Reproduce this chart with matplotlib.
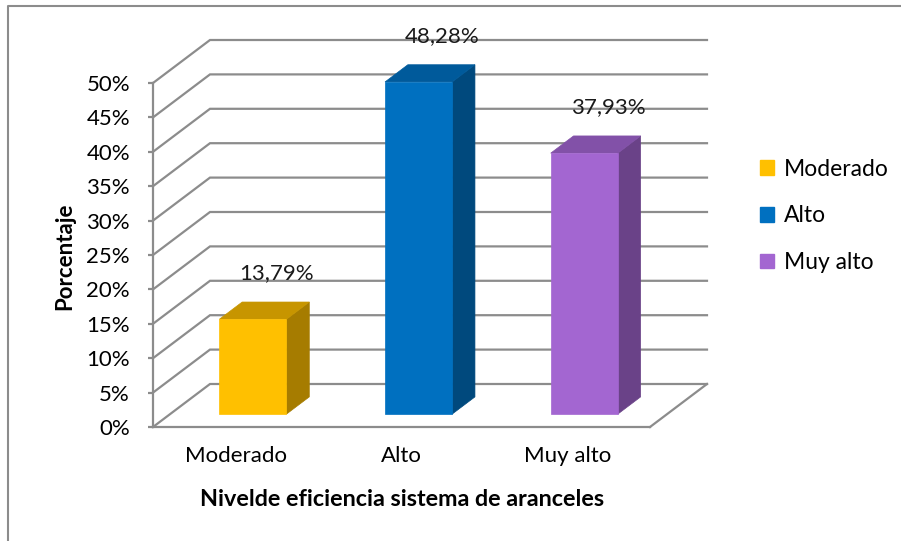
import matplotlib
matplotlib.use("Agg")
import matplotlib.pyplot as plt
from matplotlib.patches import Polygon, Patch
from matplotlib.lines import Line2D

# ---- data ----
categories = ["Moderado", "Alto", "Muy alto"]
values = [13.79, 48.28, 37.93]
value_labels = ["13,79%", "48,28%", "37,93%"]
yticks = [0, 5, 10, 15, 20, 25, 30, 35, 40, 45, 50]
ytick_labels = [f"{t}%" for t in yticks]
x_title = "Nivelde eficiencia sistema de aranceles"
y_title = "Porcentaje"

front_colors = ["#FFC000", "#0070C0", "#A366D1"]
side_colors = ["#A67C00", "#00497D", "#6A4288"]
top_colors = ["#C79500", "#005A9B", "#8251A8"]
grid_color = "#8C8C8C"

FONT = "Lato"
FS = 16
W, H = 901, 541
fig = plt.figure(figsize=(W / 100, H / 100), dpi=100)
ax = fig.add_axes([153 / W, (H - 427) / H, 497 / W, 344 / H])
n = len(categories)
ax.set_xlim(-0.5, n - 0.5)
ax.set_ylim(0, 50)

# 3D depth offsets in data units
DX = 0.344
DY = 6.25
f0, f1 = 0.30, 0.70
bw = 0.405

# walls / grid
for t in yticks:
    ax.plot([-0.5, -0.5 + DX, n - 0.5 + DX], [t, t + DY, t + DY],
            color=grid_color, lw=1.6, clip_on=False, zorder=1,
            solid_joinstyle="miter")
ax.plot([n - 0.5, n - 0.5 + DX], [0, DY], color=grid_color, lw=1.6,
        clip_on=False, zorder=1)

# bars
for i, v in enumerate(values):
    l = i - bw / 2
    r = i + bw / 2
    front = [(l + f0 * DX, f0 * DY), (r + f0 * DX, f0 * DY),
             (r + f0 * DX, v + f0 * DY), (l + f0 * DX, v + f0 * DY)]
    side = [(r + f0 * DX, f0 * DY), (r + f1 * DX, f1 * DY),
            (r + f1 * DX, v + f1 * DY), (r + f0 * DX, v + f0 * DY)]
    top = [(l + f0 * DX, v + f0 * DY), (r + f0 * DX, v + f0 * DY),
           (r + f1 * DX, v + f1 * DY), (l + f1 * DX, v + f1 * DY)]
    for poly, c in ((side, side_colors[i]), (top, top_colors[i]), (front, front_colors[i])):
        ax.add_patch(Polygon(poly, closed=True, facecolor=c, edgecolor=c,
                             lw=0.5, clip_on=False, zorder=3))
    ax.text(i + 0.72 * DX, v + 0.5 * DY + 5.4, value_labels[i], ha="center",
            va="center", fontsize=FS, family=FONT, color="#1a1a1a", zorder=5)

# axes styling
for s in ("top", "right"):
    ax.spines[s].set_visible(False)
for s in ("left", "bottom"):
    ax.spines[s].set_color(grid_color)
    ax.spines[s].set_linewidth(1.6)
ax.set_yticks(yticks)
ax.set_yticklabels(ytick_labels, family=FONT, fontsize=FS)
ax.set_xticks(range(n))
ax.set_xticklabels(categories, family=FONT, fontsize=FS)
ax.tick_params(axis="y", length=3.6, width=1.6, color=grid_color, pad=13)
ax.tick_params(axis="x", length=0, pad=14)
ax.set_facecolor("none")

fig.text(65 / W, 1 - 256 / H, y_title, rotation=90, ha="center", va="center",
         fontsize=FS, fontweight="bold", family=FONT)
fig.text(402 / W, 1 - 500 / H, x_title, ha="center", va="center",
         fontsize=16.8, fontweight="bold", family=FONT)

handles = [Patch(facecolor=c, edgecolor=c) for c in front_colors]
fig.legend(handles, categories, loc="center left",
           bbox_to_anchor=(760 / W, 1 - 216 / H), frameon=False,
           prop={"family": FONT, "size": 16.5}, handlelength=0.6,
           handleheight=0.6, handletextpad=0.45, labelspacing=1.12,
           borderaxespad=0, borderpad=0)

# chart border
fig.add_artist(Line2D([8 / W, 8 / W, 1], [0, 1 - 6 / H, 1 - 6 / H],
                      color="#8C8C8C", lw=1.5, transform=fig.transFigure))

fig.savefig("out.png", dpi=100)
